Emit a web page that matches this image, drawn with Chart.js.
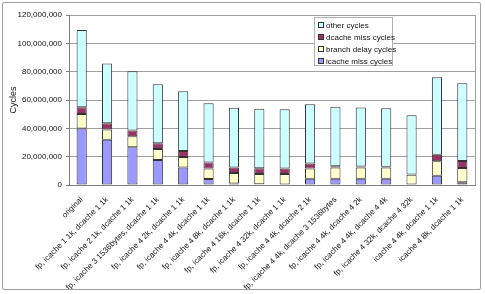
<!DOCTYPE html>
<html>
<head>
<meta charset="utf-8">
<script src="https://cdn.jsdelivr.net/npm/chart.js@4/dist/chart.umd.min.js"></script>
<style>
  html, body { margin: 0; padding: 0; background: #fff; }
  #wrap { position: relative; width: 485px; height: 294px; }
  #frame { position: absolute; left: 2px; top: 2px; width: 479px; height: 288px; border: 1px solid #a0a0a0; border-radius: 2px; box-sizing: border-box; pointer-events: none; }
  #legend { position: absolute; left: 314px; top: 17px; width: 79px; height: 49px; background: #fff; border: 1px solid #b0b0b0; box-sizing: border-box; font-family: "Liberation Sans", Arial, sans-serif; font-size: 8px; color: #111; padding-top: 2px; }
  #legend div { height: 12px; line-height: 12px; padding-left: 3px; white-space: nowrap; }
  #legend span.m { display: inline-block; width: 4px; height: 4px; border: 1px solid #333; margin-right: 2px; vertical-align: middle; position: relative; top: -1px; }
</style>
</head>
<body>
<div id="wrap">
  <canvas id="c" width="485" height="294"></canvas>
  <div id="frame"></div>
  <div id="legend"></div>
</div>
<script>
const categories = [
  "original",
  "fp, icache 1 1k, dcache 1 1k",
  "fp, icache 2 1k, dcache 1 1k",
  "fp, icache 3 1536bytes, dcache 1 1k",
  "fp, icache 4 2k, dcache 1 1k",
  "fp, icache 4 4k, dcache 1 1k",
  "fp, icache 4 8k, dcache 1 1k",
  "fp, icache 4 16k, dcache 1 1k",
  "fp, icache 4 32k, dcache 1 1k",
  "fp, icache 4 4k, dcache 2 1k",
  "fp, icache 4 4k, dcache 3 1536bytes",
  "fp, icache 4 4k, dcache 4 2k",
  "fp, icache 4 4k, dcache 4 4k",
  "fp, icache 4 32k, dcache 4 32k",
  "icache 4 4k, dcache 1 1k",
  "icache 4 8k, dcache 1 1k"
];
const seriesNames = ["icache miss cycles", "branch delay cycles", "dcache miss cycles", "other cycles"];
const icacheMiss  = [39800000, 32000000, 26600000, 17600000, 12300000, 4200000, 1000000, 500000, 300000, 4500000, 4500000, 4500000, 4500000, 0, 6600000, 1900000];
const branchDelay = [10300000, 7100000, 7800000, 7800000, 7500000, 7400000, 7500000, 7300000, 7500000, 7100000, 7800000, 7800000, 7800000, 7300000, 10100000, 10100000];
const dcacheMiss  = [4700000, 4500000, 4000000, 4000000, 4200000, 4200000, 3800000, 4000000, 3800000, 3500000, 1000000, 800000, 500000, 200000, 4700000, 4900000];
const otherCycles = [54600000, 42100000, 41900000, 41700000, 42100000, 41900000, 42300000, 42100000, 41800000, 41900000, 41900000, 41600000, 41300000, 41700000, 54600000, 54900000];
const yTicks = [0, 20000000, 40000000, 60000000, 80000000, 100000000, 120000000];

const colors = ["#9999FF", "#FFFFCC", "#993366", "#CCFFFF"];
const seriesData = [icacheMiss, branchDelay, dcacheMiss, otherCycles];

const datasets = seriesNames.map((n, i) => ({
  label: n,
  data: seriesData[i],
  backgroundColor: colors[i],
  borderColor: "#333333",
  borderWidth: 1,
  borderSkipped: false,
  categoryPercentage: 1.0,
  barPercentage: 0.4
}));

// legend (reverse order, as in the reference)
const lg = document.getElementById('legend');
for (let i = seriesNames.length - 1; i >= 0; i--) {
  const d = document.createElement('div');
  d.innerHTML = '<span class="m" style="background:' + colors[i] + '"></span>' + seriesNames[i];
  lg.appendChild(d);
}

const rightEdge = {
  id: 'rightEdge',
  beforeDatasetsDraw(chart) {
    const { ctx, chartArea: a } = chart;
    ctx.save();
    ctx.strokeStyle = '#a0a0a0';
    ctx.lineWidth = 1;
    ctx.beginPath();
    ctx.moveTo(Math.round(a.right) + 0.5, a.top);
    ctx.lineTo(Math.round(a.right) + 0.5, a.bottom);
    ctx.stroke();
    ctx.restore();
  }
};

const fontFam = '"Liberation Sans", Arial, sans-serif';
new Chart(document.getElementById('c'), {
  type: 'bar',
  data: { labels: categories, datasets },
  plugins: [rightEdge],
  options: {
    responsive: false,
    animation: false,
    devicePixelRatio: 1,
    layout: { padding: { left: 0, right: 10, top: 15, bottom: 0 } },
    plugins: { legend: { display: false }, tooltip: { enabled: false } },
    scales: {
      x: {
        stacked: true,
        grid: { display: false },
        border: { display: true, color: "#808080", width: 1 },
        ticks: {
          autoSkip: false, maxRotation: 45, minRotation: 45, padding: 2,
          color: "#111", font: { family: fontFam, size: 8 }
        },
        afterFit: (s) => { s.height = 109; }
      },
      y: {
        stacked: true,
        min: 0, max: 120000000,
        afterBuildTicks: (s) => { s.ticks = yTicks.map(v => ({ value: v })); },
        grid: { color: "#a0a0a0", lineWidth: 1, tickLength: 3, drawTicks: true, tickColor: "#808080" },
        border: { display: true, color: "#808080", width: 1 },
        ticks: {
          padding: 4, color: "#111", font: { family: fontFam, size: 8 },
          callback: (v) => v.toLocaleString('en-US')
        },
        title: { display: true, text: "Cycles", color: "#111", font: { family: fontFam, size: 9 }, padding: { top: 8, bottom: 0 } },
        afterFit: (s) => { s.width = 69; }
      }
    }
  }
});
</script>
</body>
</html>
